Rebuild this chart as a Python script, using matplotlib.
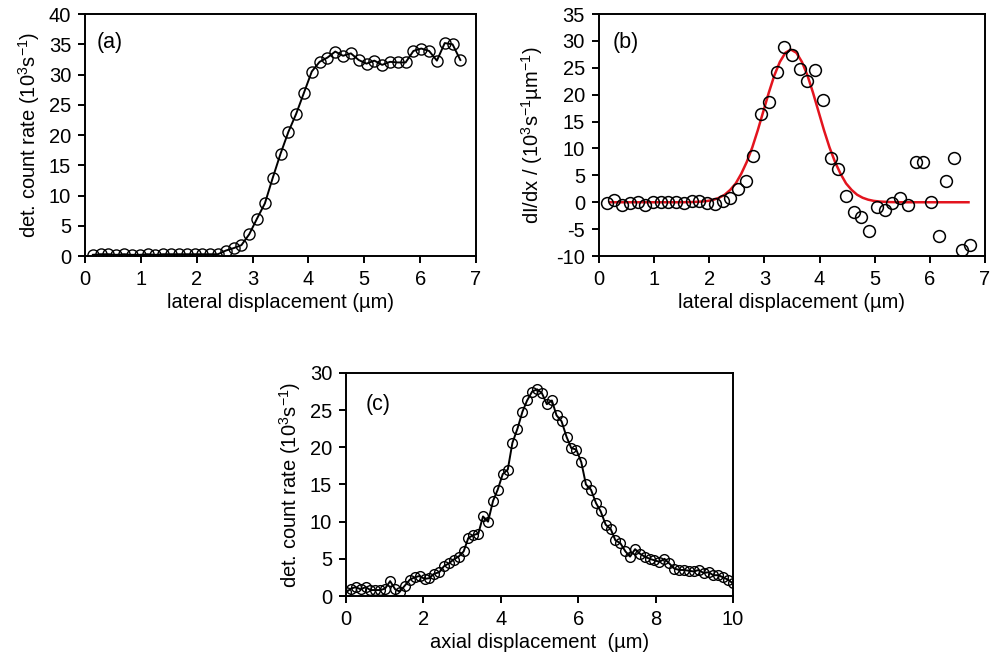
import matplotlib
matplotlib.use("Agg")
import matplotlib.pyplot as plt

plt.rcParams['font.family'] = ['Liberation Sans', 'DejaVu Sans']
plt.rcParams['mathtext.fontset'] = 'custom'
plt.rcParams['mathtext.rm'] = 'Liberation Sans'
plt.rcParams['mathtext.it'] = 'Liberation Sans:italic'
plt.rcParams['axes.unicode_minus'] = False

# (a) lateral scan, count rate vs displacement
lat_x = [0.14, 0.28, 0.42, 0.56, 0.70, 0.84, 0.98, 1.12, 1.26, 1.40, 1.54, 1.68,
         1.82, 1.96, 2.10, 2.24, 2.38, 2.52, 2.66, 2.80, 2.94, 3.08, 3.22, 3.36,
         3.50, 3.64, 3.78, 3.92, 4.06, 4.20, 4.34, 4.48, 4.62, 4.76, 4.90, 5.04,
         5.18, 5.32, 5.46, 5.60, 5.74, 5.88, 6.02, 6.16, 6.30, 6.44, 6.58, 6.72]
lat_rate = [0.2, 0.3, 0.3, 0.2, 0.3, 0.2, 0.2, 0.3, 0.2, 0.3, 0.3, 0.3,
            0.3, 0.3, 0.3, 0.3, 0.3, 0.9, 1.3, 1.8, 3.6, 6.2, 8.7, 12.9,
            16.9, 20.5, 23.5, 27.0, 30.5, 32.1, 32.8, 33.8, 33.1, 33.5, 32.4, 31.8,
            32.3, 31.6, 32.1, 32.0, 32.0, 33.9, 34.3, 33.9, 32.3, 35.2, 35.0, 32.4]

# (b) derivative of (a) with gaussian fit
deriv = [-0.1, 0.4, -0.6, -0.1, 0.1, -0.6, 0.1, 0.1, 0.1, 0.1, -0.2, 0.3,
         0.3, -0.1, -0.4, 0.2, 0.75, 2.5, 3.9, 8.6, 16.4, 18.6, 24.3, 28.9,
         27.4, 24.7, 22.5, 24.6, 19.1, 8.3, 6.1, 1.25, -1.9, -2.7, -5.3, -0.9,
         -1.4, -0.2, 0.75, -0.5, 7.5, 7.5, 0.0, -6.25, 3.9, 8.3, -8.9, -7.9]
fit_x = [0.2, 1.0, 1.48, 1.68, 1.88, 1.98, 2.08, 2.18, 2.28, 2.38, 2.48, 2.58,
         2.68, 2.78, 2.88, 2.98, 3.08, 3.18, 3.28, 3.38, 3.48, 3.58, 3.68, 3.78,
         3.88, 3.98, 4.08, 4.18, 4.28, 4.38, 4.48, 4.58, 4.68, 4.78, 4.88, 4.98,
         5.08, 5.28, 5.48, 6.0, 6.7]
fit_y = [0.0, 0.0, 0.0, 0.03, 0.14, 0.26, 0.48, 0.84, 1.4, 2.3, 3.5, 5.3,
         7.5, 10.2, 13.4, 16.9, 20.4, 23.6, 26.1, 27.8, 28.4, 27.8, 26.1, 23.6,
         20.4, 16.9, 13.4, 10.2, 7.5, 5.3, 3.5, 2.3, 1.4, 0.84, 0.48, 0.26,
         0.14, 0.03, 0.0, 0.0, 0.0]

# (c) axial scan
ax_x = [0.00, 0.13, 0.25, 0.38, 0.51, 0.63, 0.76, 0.89, 1.01, 1.14, 1.27, 1.39,
        1.52, 1.65, 1.77, 1.90, 2.03, 2.15, 2.28, 2.41, 2.53, 2.66, 2.78, 2.91,
        3.04, 3.16, 3.29, 3.42, 3.54, 3.67, 3.80, 3.92, 4.05, 4.18, 4.30, 4.43,
        4.56, 4.68, 4.81, 4.94, 5.06, 5.19, 5.32, 5.44, 5.57, 5.70, 5.82, 5.95,
        6.08, 6.20, 6.33, 6.46, 6.58, 6.71, 6.84, 6.96, 7.09, 7.22, 7.34, 7.47,
        7.59, 7.72, 7.85, 7.97, 8.10, 8.23, 8.35, 8.48, 8.61, 8.73, 8.86, 8.99,
        9.11, 9.24, 9.37, 9.49, 9.62, 9.75, 9.87, 10.00]
ax_rate = [0.5, 1.0, 1.2, 0.9, 1.2, 0.8, 0.8, 0.8, 1.0, 2.0, 0.9, 0.6,
           1.4, 2.2, 2.5, 2.7, 2.3, 2.4, 3.0, 3.2, 4.0, 4.4, 4.9, 5.3,
           6.0, 7.8, 8.2, 8.4, 10.7, 10.0, 12.8, 14.3, 16.4, 17.0, 20.6, 22.5,
           24.8, 26.3, 27.5, 27.8, 27.3, 25.8, 26.3, 24.3, 23.5, 21.4, 19.9, 19.7,
           18.0, 15.0, 14.3, 12.5, 11.4, 9.6, 9.0, 7.5, 7.1, 6.0, 5.3, 6.3,
           5.7, 5.3, 5.0, 4.8, 4.6, 5.0, 4.4, 3.7, 3.5, 3.5, 3.4, 3.3,
           3.5, 3.1, 3.2, 2.8, 2.8, 2.5, 2.2, 1.7]

FS = 14.5
fig = plt.figure(figsize=(9.9, 6.69), dpi=100)
ax_a = fig.add_axes([0.0859, 0.6173, 0.3949, 0.3617])
ax_b = fig.add_axes([0.6050, 0.6173, 0.3900, 0.3617])
ax_c = fig.add_axes([0.3495, 0.1091, 0.3909, 0.3334])


def style(ax):
    for s in ax.spines.values():
        s.set_linewidth(1.4)
    ax.tick_params(direction='out', length=5, width=1.4, labelsize=FS,
                   top=False, right=False, pad=5)


ax_a.plot(lat_x, lat_rate, color='black', lw=1.4, marker='o', ms=8,
          mfc='none', mec='black', mew=1.0)
ax_a.set_xlim(0, 7)
ax_a.set_ylim(0, 40)
ax_a.set_xticks(range(0, 8))
ax_a.set_yticks(range(0, 41, 5))
ax_a.set_xlabel('lateral displacement (µm)', fontsize=FS, labelpad=3)
ax_a.set_ylabel('det. count rate (10$^3$s$^{-1}$)', fontsize=FS, labelpad=5)
ax_a.text(0.03, 0.925, '(a)', transform=ax_a.transAxes, fontsize=FS + 1, va='top')
style(ax_a)

ax_b.plot(fit_x, fit_y, color='#e3141e', lw=1.8, zorder=2)
ax_b.plot(lat_x, deriv, ls='none', marker='o', ms=8.5, mfc='none',
          mec='black', mew=1.1, zorder=3)
ax_b.set_xlim(0, 7)
ax_b.set_ylim(-10, 35)
ax_b.set_xticks(range(0, 8))
ax_b.set_yticks(range(-10, 36, 5))
ax_b.set_xlabel('lateral displacement (µm)', fontsize=FS, labelpad=3)
ax_b.set_ylabel('dI/dx / (10$^3$s$^{-1}$µm$^{-1}$)', fontsize=FS, labelpad=8)
ax_b.text(0.035, 0.925, '(b)', transform=ax_b.transAxes, fontsize=FS + 1, va='top')
style(ax_b)

ax_c.plot(ax_x, ax_rate, color='black', lw=1.4, marker='o', ms=7,
          mfc='none', mec='black', mew=1.0)
ax_c.set_xlim(0, 10)
ax_c.set_ylim(0, 30)
ax_c.set_xticks(range(0, 11, 2))
ax_c.set_yticks(range(0, 31, 5))
ax_c.set_xlabel('axial displacement  (µm)', fontsize=FS, labelpad=3)
ax_c.set_ylabel('det. count rate (10$^3$s$^{-1}$)', fontsize=FS, labelpad=5)
ax_c.text(0.05, 0.905, '(c)', transform=ax_c.transAxes, fontsize=FS + 1, va='top')
style(ax_c)

fig.savefig('out.png', dpi=100)
